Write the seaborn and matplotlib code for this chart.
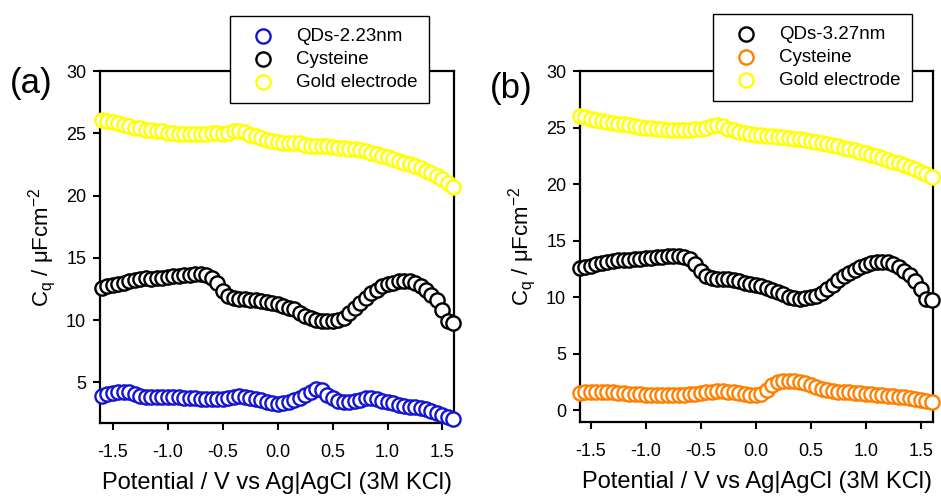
import numpy as np
import pandas as pd
import matplotlib
matplotlib.use("Agg")
import matplotlib.pyplot as plt
import seaborn as sns

# ---------------- data ----------------
potential = [-1.60, -1.55, -1.50, -1.45, -1.40, -1.35, -1.30, -1.25, -1.20, -1.15,
             -1.10, -1.05, -1.00, -0.95, -0.90, -0.85, -0.80, -0.75, -0.70, -0.65,
             -0.60, -0.55, -0.50, -0.45, -0.40, -0.35, -0.30, -0.25, -0.20, -0.15,
             -0.10, -0.05, 0.00, 0.05, 0.10, 0.15, 0.20, 0.25, 0.30, 0.35,
             0.40, 0.45, 0.50, 0.55, 0.60, 0.65, 0.70, 0.75, 0.80, 0.85,
             0.90, 0.95, 1.00, 1.05, 1.10, 1.15, 1.20, 1.25, 1.30, 1.35,
             1.40, 1.45, 1.50, 1.55, 1.60]

# panel (a)
qd_a = [3.90, 4.05, 4.15, 4.20, 4.20, 4.20, 4.05, 3.90, 3.80, 3.80,
        3.82, 3.82, 3.80, 3.80, 3.78, 3.75, 3.72, 3.70, 3.68, 3.65,
        3.62, 3.63, 3.68, 3.75, 3.85, 3.90, 3.85, 3.75, 3.65, 3.55,
        3.42, 3.32, 3.28, 3.30, 3.40, 3.55, 3.70, 3.95, 4.25, 4.50,
        4.40, 4.00, 3.70, 3.50, 3.40, 3.42, 3.50, 3.60, 3.70, 3.72,
        3.65, 3.50, 3.40, 3.30, 3.20, 3.10, 3.05, 3.00, 2.95, 2.85,
        2.70, 2.55, 2.40, 2.20, 2.05]
cys_a = [12.60, 12.70, 12.80, 12.90, 13.00, 13.15, 13.25, 13.30, 13.35, 13.30,
         13.35, 13.40, 13.45, 13.50, 13.55, 13.60, 13.65, 13.70, 13.72, 13.65,
         13.40, 12.95, 12.35, 11.95, 11.75, 11.65, 11.65, 11.60, 11.60, 11.55,
         11.45, 11.35, 11.25, 11.15, 11.00, 10.85, 10.60, 10.35, 10.15, 10.00,
         9.90, 9.92, 9.95, 10.00, 10.20, 10.55, 10.95, 11.40, 11.80, 12.15,
         12.45, 12.70, 12.90, 13.00, 13.10, 13.15, 13.15, 13.00, 12.75, 12.45,
         12.05, 11.60, 10.80, 9.90, 9.75]
gold_a = [26.10, 26.00, 25.90, 25.80, 25.65, 25.55, 25.45, 25.40, 25.30, 25.25,
          25.20, 25.15, 25.05, 25.00, 24.95, 24.95, 24.95, 24.93, 24.95, 24.97,
          25.00, 25.00, 24.98, 25.00, 25.15, 25.20, 25.10, 24.90, 24.75, 24.60,
          24.45, 24.35, 24.30, 24.25, 24.20, 24.25, 24.20, 24.05, 24.00, 24.00,
          23.95, 23.95, 23.90, 23.85, 23.80, 23.75, 23.70, 23.65, 23.55, 23.40,
          23.30, 23.20, 23.10, 22.95, 22.80, 22.65, 22.50, 22.35, 22.20, 22.00,
          21.80, 21.55, 21.30, 21.00, 20.65]

# panel (b)
qd_b = [12.60, 12.70, 12.80, 12.90, 13.00, 13.10, 13.20, 13.25, 13.30, 13.32,
        13.35, 13.40, 13.45, 13.50, 13.55, 13.60, 13.62, 13.65, 13.65, 13.60,
        13.40, 12.90, 12.30, 11.90, 11.70, 11.62, 11.60, 11.58, 11.50, 11.40,
        11.30, 11.20, 11.10, 11.00, 10.85, 10.65, 10.45, 10.25, 10.05, 9.90,
        9.85, 9.90, 9.98, 10.10, 10.35, 10.70, 11.10, 11.50, 11.85, 12.15,
        12.40, 12.65, 12.85, 13.00, 13.10, 13.15, 13.10, 12.95, 12.70, 12.35,
        11.95, 11.45, 10.75, 9.85, 9.72]
cys_b = [1.55, 1.58, 1.60, 1.62, 1.62, 1.62, 1.60, 1.55, 1.50, 1.47,
         1.45, 1.42, 1.40, 1.40, 1.38, 1.36, 1.35, 1.33, 1.35, 1.38,
         1.42, 1.48, 1.55, 1.60, 1.65, 1.70, 1.70, 1.65, 1.58, 1.50,
         1.42, 1.35, 1.33, 1.45, 1.80, 2.20, 2.50, 2.60, 2.62, 2.60,
         2.52, 2.40, 2.25, 2.05, 1.90, 1.80, 1.72, 1.65, 1.62, 1.60,
         1.55, 1.52, 1.48, 1.45, 1.40, 1.35, 1.30, 1.25, 1.20, 1.15,
         1.08, 1.00, 0.92, 0.85, 0.75]
gold_b = [26.00, 25.90, 25.80, 25.70, 25.60, 25.50, 25.42, 25.35, 25.28, 25.20,
          25.15, 25.07, 25.00, 24.95, 24.90, 24.85, 24.80, 24.78, 24.78, 24.80,
          24.82, 24.85, 24.88, 24.95, 25.15, 25.25, 25.10, 24.90, 24.75, 24.65,
          24.55, 24.45, 24.35, 24.30, 24.25, 24.22, 24.20, 24.15, 24.05, 24.00,
          23.95, 23.90, 23.85, 23.75, 23.65, 23.55, 23.45, 23.35, 23.22, 23.10,
          22.98, 22.85, 22.75, 22.60, 22.45, 22.30, 22.15, 22.00, 21.85, 21.70,
          21.50, 21.30, 21.10, 20.90, 20.65]

labels_a = ["QDs-2.23nm", "Cysteine", "Gold electrode"]
labels_b = ["QDs-3.27nm", "Cysteine", "Gold electrode"]
colors_a = ["#1414d2", "#000000", "#ffff00"]
colors_b = ["#000000", "#ff8000", "#ffff00"]
yticks_a = [5, 10, 15, 20, 25, 30]
yticks_b = [0, 5, 10, 15, 20, 25, 30]
xticks = [-1.5, -1.0, -0.5, 0.0, 0.5, 1.0, 1.5]
xlabel = "Potential / V vs Ag|AgCl (3M KCl)"
ylabel = "C$_q$ / μFcm$^{-2}$"

# ---------------- styling ----------------
sns.set_style("ticks")
plt.rcParams["font.family"] = ["Liberation Sans", "DejaVu Sans"]
plt.rcParams["mathtext.default"] = "regular"
plt.rcParams["axes.linewidth"] = 1.5
plt.rcParams["text.color"] = "black"
plt.rcParams["axes.labelcolor"] = "black"
plt.rcParams["xtick.color"] = "black"
plt.rcParams["ytick.color"] = "black"

fig = plt.figure(figsize=(9.41, 4.97), dpi=100)
ax_a = fig.add_axes([0.1063, 0.1489, 0.3762, 0.7082])
ax_b = fig.add_axes([0.6164, 0.1509, 0.3751, 0.7062])


def draw(ax, series, labels, colors, yticks, ylim, xlim, leg_xy, tag, tag_xy):
    for vals, lab, col in zip(series, labels, colors):
        df = pd.DataFrame({"V": potential, "C": vals})
        sns.scatterplot(data=df, x="V", y="C", ax=ax, s=105, marker="o",
                        facecolor="white", edgecolor=col, linewidth=1.7,
                        label=lab, clip_on=False, zorder=3)
    ax.set_xlim(*xlim)
    ax.set_ylim(*ylim)
    ax.set_xticks(xticks)
    ax.set_xticklabels([f"{t:.1f}" for t in xticks])
    ax.set_yticks(yticks)
    ax.tick_params(axis="both", direction="out", length=5, width=1.5,
                   labelsize=13, colors="black", labelcolor="black")
    ax.tick_params(axis="x", pad=10)
    ax.tick_params(axis="y", pad=5)
    for sp in ax.spines.values():
        sp.set_visible(True)
        sp.set_linewidth(1.6)
        sp.set_color("black")
    ax.set_xlabel(xlabel, fontsize=17, labelpad=8, color="black")
    ax.set_ylabel(ylabel, fontsize=16, labelpad=6, color="black")
    leg = ax.legend(loc="upper left", bbox_to_anchor=leg_xy,
                    bbox_transform=fig.transFigure, fontsize=13.5,
                    frameon=True, fancybox=False, shadow=False,
                    borderpad=0.62, labelspacing=0.33, handlelength=2.3,
                    handletextpad=0.6, borderaxespad=0)
    for t in leg.get_texts():
        t.set_color("black")
    leg.get_frame().set_edgecolor("black")
    leg.get_frame().set_linewidth(1.0)
    leg.get_frame().set_alpha(1)
    leg.set_zorder(10)
    fig.text(tag_xy[0], tag_xy[1], tag, fontsize=25, va="center", ha="left",
             color="black")


draw(ax_a, [qd_a, cys_a, gold_a], labels_a, colors_a, yticks_a,
     (1.73, 30), (-1.615, 1.605), (0.2444, 0.9678), "(a)", (0.010, 0.831))
draw(ax_b, [qd_b, cys_b, gold_b], labels_b, colors_b, yticks_b,
     (-1.03, 30), (-1.597, 1.61), (0.7577, 0.9718), "(b)", (0.521, 0.821))

fig.savefig("out.png", dpi=100)
